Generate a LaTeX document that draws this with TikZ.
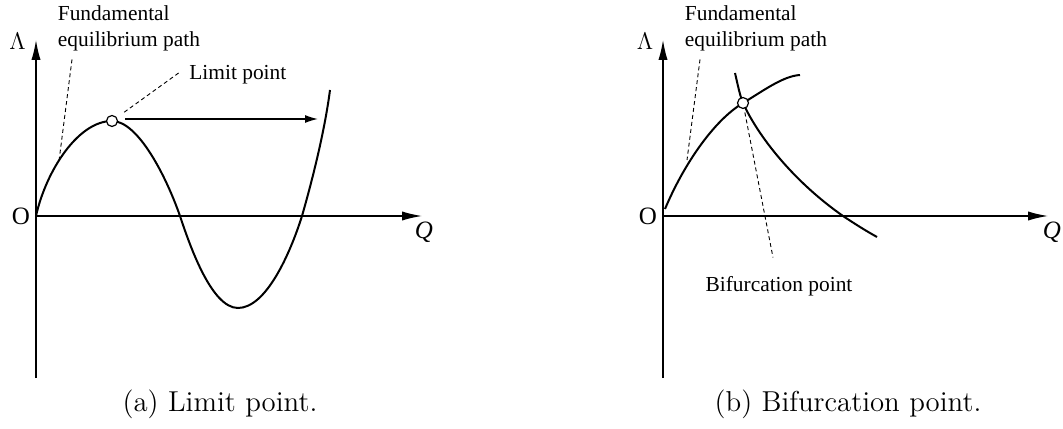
\documentclass[tikz,border=0pt]{standalone}
\usepackage{fontspec}
\usetikzlibrary{arrows.meta,calc}
\newfontfamily\labelfont{Liberation Serif}

\tikzset{
  axisline/.style={line width=0.65pt,-{Latex[length=10pt,width=4.6pt]}},
  pathline/.style={line width=1pt},
  leader/.style={line width=0.45pt,dash pattern=on 2pt off 1.5pt},
  jumparrow/.style={line width=0.65pt,-{Latex[length=6.5pt,width=4pt]}},
  lbl/.style={font=\labelfont\fontsize{10.7}{12.85}\selectfont,inner sep=0pt,align=left},
  sym/.style={font=\labelfont\fontsize{12.5}{13}\selectfont,inner sep=0pt},
  markpt/.style={circle,draw,fill=white,line width=0.6pt,minimum size=5.5pt,inner sep=0pt},
  subcap/.style={font=\fontsize{14.4}{17}\selectfont,inner sep=0pt}
}

\begin{document}
\begin{tikzpicture}[x=0.5pt,y=0.5pt]
  \useasboundingbox (0,0) rectangle (1063,428);

  % (a) limit point
  \begin{scope}[shift={(36,212)}]
    \draw[axisline] (0,-162) -- (0,176);
    \draw[axisline] (0,0) -- (386,0);
    \node[sym] (lamA) at (-18.5,174.5) {$\Lambda$};
    \node[sym] (origA) at (-15,-0.5) {O};
    \node[sym] (qA) at (388,-16) {\itshape Q};
    \draw[pathline] (0,0) .. controls (10,45) and (42,95) .. (76,95)
      .. controls (102,95) and (130,40) .. (144,0)
      .. controls (153,-27) and (175,-92) .. (202,-92)
      .. controls (230,-92) and (254,-38) .. (266,0)
      .. controls (274,28) and (288,80) .. (294,126);
    \node[markpt] (limpt) at (76,95) {};
    \coordinate (jumpend) at (282,97);
    \draw[jumparrow] ($(limpt)+(13,2)$) -- (jumpend);
    \node[lbl,anchor=north west] (fundA) at (21.5,210.5) {Fundamental\\equilibrium path};
    \coordinate (fundonA) at (23,55);
    \draw[leader] ($(fundA.south west)+(14.5,-8)$) -- (fundonA);
    \node[lbl,anchor=base west] (limlbl) at (153,136) {Limit point};
    \draw[leader,shorten <=4.5pt] (limpt) -- ($(limlbl.base west)+(-9,8)$);
    \node[subcap,anchor=base] (capA) at (184,-195) {(a) Limit point.};
  \end{scope}

  % (b) bifurcation point
  \begin{scope}[shift={(663,212)}]
    \draw[axisline] (0,-162) -- (0,176);
    \draw[axisline] (0,0) -- (385,0);
    \node[sym] (lamB) at (-18,174.5) {$\Lambda$};
    \node[sym] (origB) at (-15,-0.5) {O};
    \node[sym] (qB) at (389,-16) {\itshape Q};
    \draw[pathline] (2,7) .. controls (20,50) and (50,95) .. (80,113)
      .. controls (100,125) and (120,140) .. (137,141);
    \draw[pathline] (72,143) .. controls (75,130) and (77,120) .. (80,113)
      .. controls (95,80) and (130,35) .. (180,0)
      .. controls (195,-10) and (205,-16) .. (214,-21);
    \node[markpt] (bifpt) at (80,113) {};
    \node[lbl,anchor=north west] (fundB) at (21.5,210.5) {Fundamental\\equilibrium path};
    \coordinate (fundonB) at (24,56);
    \draw[leader] ($(fundB.south west)+(15.5,-8)$) -- (fundonB);
    \node[lbl,anchor=base] (biflbl) at (116,-76) {Bifurcation point};
    \draw[leader,shorten <=1.8pt] (bifpt) -- ($(biflbl.north)+(-6,19)$);
    \node[subcap,anchor=base] (capB) at (185,-195) {(b) Bifurcation point.};
  \end{scope}
\end{tikzpicture}
\end{document}
